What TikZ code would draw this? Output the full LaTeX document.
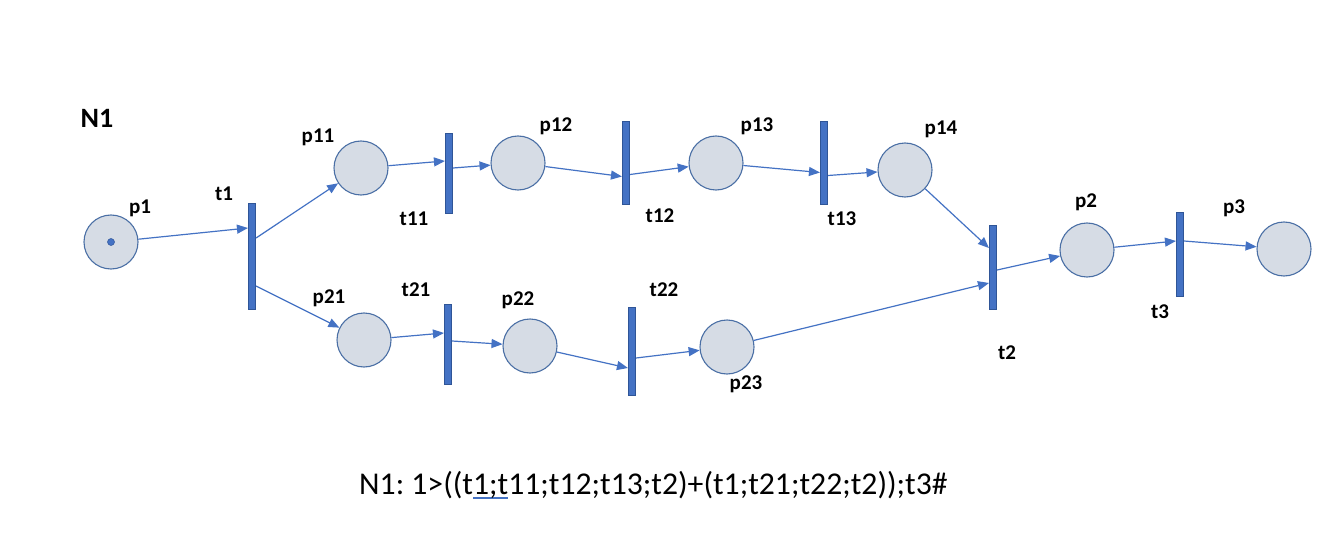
\documentclass[tikz,border=0pt]{standalone}
\usepackage{fontspec}
\setmainfont{Carlito}
\usetikzlibrary{arrows.meta}
\definecolor{arcblue}{HTML}{4472C4}
\definecolor{placefill}{HTML}{D6DCE5}
\definecolor{placeedge}{HTML}{4A6FA5}
\definecolor{transedge}{HTML}{2F5597}
\definecolor{ulblue}{HTML}{4472C4}
\newcommand{\squig}[1]{{\setbox0\hbox{#1}\rlap{\color{ulblue}\rule[-5pt]{\wd0}{1.6pt}}\box0}}
\frenchspacing
\tikzset{
  place/.style={circle, draw=placeedge, fill=placefill, line width=1.1pt, minimum size=54pt, inner sep=0pt},
  trans/.style={rectangle, draw=transedge, fill=arcblue, line width=0.6pt, minimum width=7.5pt, inner sep=0pt},
  lbl/.style={font=\fontsize{21}{25}\selectfont\bfseries, inner sep=0pt},
  arc/.style={draw=arcblue, line width=1.2pt, -{Triangle[length=11pt,width=9pt]}},
}
\begin{document}
\begin{tikzpicture}[x=1pt,y=-1pt]
\useasboundingbox (0,0) rectangle (1319,556);
\fill[white] (0,0) rectangle (1319,556);
% places
\node[place] (p1) at (111,242) {};
\node[place] (p11) at (361,168) {};
\node[place] (p12) at (518,163) {};
\node[place] (p13) at (716,163) {};
\node[place] (p14) at (905,170) {};
\node[place] (p2) at (1087,250) {};
\node[place] (p3) at (1284,249) {};
\node[place] (p21) at (364,340) {};
\node[place] (p22) at (530,346) {};
\node[place] (p23) at (727,347) {};
\node[circle, fill=arcblue, draw=transedge, line width=0.5pt, minimum size=7pt, inner sep=0pt] (tok) at (p1.center) {};
% transitions
\node[trans, minimum height=106pt] (t1) at (252,256) {};
\node[trans, minimum height=80pt] (t11) at (449,173) {};
\node[trans, minimum height=83pt] (t12) at (626,162.5) {};
\node[trans, minimum height=83pt] (t13) at (824,162.5) {};
\node[trans, minimum height=84pt] (t2) at (993,267) {};
\node[trans, minimum height=84pt] (t3) at (1180,254) {};
\node[trans, minimum height=80pt] (t21) at (448,344) {};
\node[trans, minimum height=88pt] (t22) at (632,351) {};
% arcs
\draw[arc] (p1) -- ([yshift=28pt]t1.west);
\draw[arc] ([yshift=18pt]t1.east) -- (p11);
\draw[arc] ([yshift=-30pt]t1.east) -- (p21);
\draw[arc] (p11) -- ([yshift=12pt]t11.west);
\draw[arc] ([yshift=5pt]t11.east) -- (p12);
\draw[arc] (p12) -- ([yshift=-14pt]t12.west);
\draw[arc] ([yshift=-12pt]t12.east) -- (p13);
\draw[arc] (p13) -- ([yshift=-10pt]t13.west);
\draw[arc] ([yshift=-13pt]t13.east) -- (p14);
\draw[arc] (p14) -- ([yshift=19pt]t2.west);
\draw[arc] (p23) -- ([yshift=-16pt]t2.west);
\draw[arc] ([yshift=-3pt]t2.east) -- (p2);
\draw[arc] (p2) -- ([yshift=13pt]t3.west);
\draw[arc] ([yshift=13pt]t3.east) -- (p3);
\draw[arc] (p21) -- ([yshift=11pt]t21.west);
\draw[arc] ([yshift=3pt]t21.east) -- (p22);
\draw[arc] (p22) -- ([yshift=-17pt]t22.west);
\draw[arc] ([yshift=-7pt]t22.east) -- (p23);
% labels
\node[lbl, font=\fontsize{28}{32}\selectfont\bfseries] (n1) at (97,118) {N1};
\node[lbl] (lp1) at (140,208) {p1};
\node[lbl] (lt1) at (224,194) {t1};
\node[lbl] (lp11) at (318,137) {p11};
\node[lbl] (lt11) at (414,219) {t11};
\node[lbl] (lp12) at (556,126) {p12};
\node[lbl] (lt12) at (660,216) {t12};
\node[lbl] (lp13) at (757,126) {p13};
\node[lbl] (lt13) at (842,219) {t13};
\node[lbl] (lp14) at (941,129) {p14};
\node[lbl] (lp2) at (1086,202) {p2};
\node[lbl] (lp3) at (1234,208) {p3};
\node[lbl] (lt3) at (1160,312) {t3};
\node[lbl] (lt2) at (1007,353) {t2};
\node[lbl] (lp21) at (329,298) {p21};
\node[lbl] (lt21) at (416,290) {t21};
\node[lbl] (lp22) at (518,300) {p22};
\node[lbl] (lt22) at (664,290) {t22};
\node[lbl] (lp23) at (746,384) {p23};
% formula
\node[inner sep=0pt, anchor=base west, font=\fontsize{31.7}{38}\selectfont] (formula) at (359,494) {N1: 1>((t\squig{1;t}11;t12;t13;t2)+(t1;t21;t22;t2));t3\#};
\end{tikzpicture}
\end{document}
